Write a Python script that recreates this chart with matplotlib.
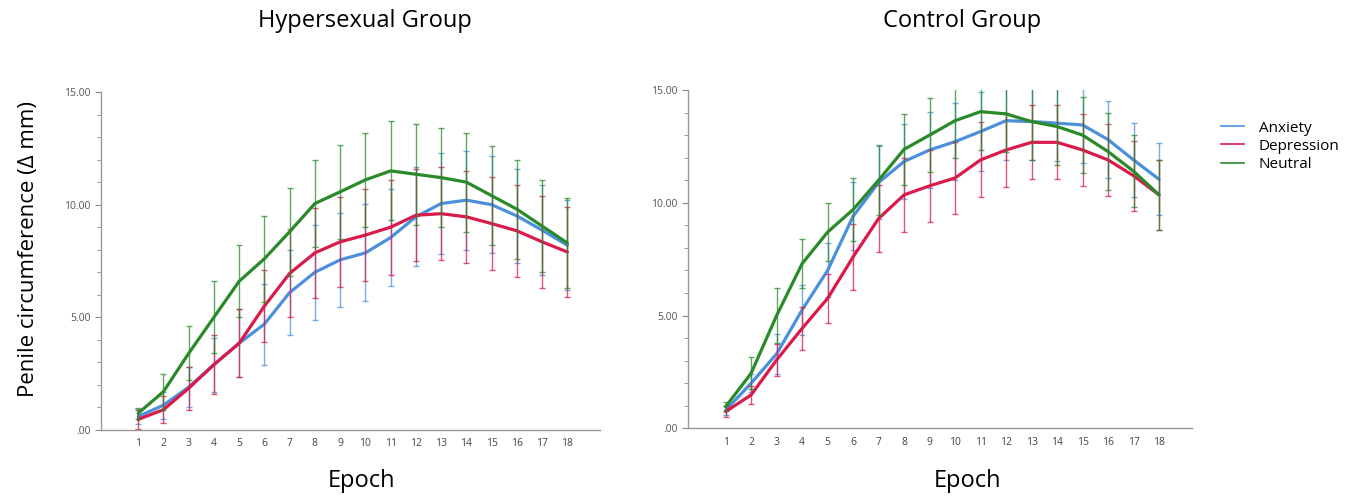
import matplotlib.pyplot as plt
from matplotlib.lines import Line2D
from matplotlib.ticker import FixedLocator, MultipleLocator
import numpy as np

plt.rcParams['font.family'] = ['Open Sans', 'DejaVu Sans']

# data
epochs = list(range(1, 19))
conditions = ['Anxiety', 'Depression', 'Neutral']
colours = {'Anxiety': '#4a90dc', 'Depression': '#d81b4a', 'Neutral': '#2a8a2a'}

hyp_anxiety = [0.6, 1.1, 1.9, 2.9, 3.85, 4.7, 6.1, 7.0, 7.55, 7.86, 8.54, 9.46, 10.05, 10.2, 10.0, 9.5, 8.87, 8.2]
hyp_depression = [0.47, 0.9, 1.85, 2.9, 3.85, 5.5, 6.95, 7.86, 8.35, 8.65, 9.0, 9.53, 9.6, 9.46, 9.16, 8.84, 8.35, 7.9]
hyp_neutral = [0.74, 1.7, 3.4, 5.0, 6.6, 7.6, 8.8, 10.05, 10.57, 11.1, 11.5, 11.35, 11.2, 11.0, 10.4, 9.8, 9.05, 8.3]
hyp_anxiety_err = [0.35, 0.6, 0.9, 1.2, 1.5, 1.8, 1.9, 2.1, 2.1, 2.15, 2.15, 2.2, 2.25, 2.2, 2.15, 2.1, 2.0, 2.0]
hyp_depression_err = [0.43, 0.6, 0.95, 1.3, 1.5, 1.6, 1.95, 2.0, 2.0, 2.05, 2.1, 2.05, 2.05, 2.05, 2.05, 2.05, 2.05, 2.0]
hyp_neutral_err = [0.25, 0.8, 1.2, 1.6, 1.6, 1.9, 1.95, 1.95, 2.1, 2.1, 2.2, 2.25, 2.2, 2.2, 2.2, 2.2, 2.05, 2.0]

ctl_anxiety = [0.8, 2.0, 3.3, 5.25, 7.0, 9.4, 10.9, 11.83, 12.34, 12.71, 13.16, 13.64, 13.6, 13.53, 13.45, 12.8, 11.9, 11.04]
ctl_depression = [0.74, 1.48, 3.03, 4.43, 5.76, 7.6, 9.3, 10.35, 10.75, 11.1, 11.9, 12.34, 12.68, 12.68, 12.34, 11.9, 11.2, 10.35]
ctl_neutral = [0.96, 2.44, 5.0, 7.3, 8.7, 9.7, 11.0, 12.37, 13.0, 13.64, 14.04, 13.94, 13.6, 13.38, 13.0, 12.27, 11.4, 10.35]
ctl_anxiety_err = [0.2, 0.4, 0.9, 1.1, 1.2, 1.5, 1.6, 1.65, 1.7, 1.7, 1.75, 1.75, 1.7, 1.7, 1.7, 1.7, 1.65, 1.6]
ctl_depression_err = [0.25, 0.4, 0.7, 0.95, 1.1, 1.45, 1.5, 1.65, 1.6, 1.6, 1.66, 1.65, 1.64, 1.64, 1.6, 1.6, 1.56, 1.55]
ctl_neutral_err = [0.2, 0.7, 1.2, 1.1, 1.3, 1.4, 1.55, 1.57, 1.63, 1.65, 1.7, 1.7, 1.7, 1.7, 1.7, 1.7, 1.6, 1.55]

yticks = [0, 5, 10, 15]
ytick_labels = ['.00', '5.00', '10.00', '15.00']

groups = [
    ('Hypersexual Group', [hyp_anxiety, hyp_depression, hyp_neutral],
     [hyp_anxiety_err, hyp_depression_err, hyp_neutral_err]),
    ('Control Group', [ctl_anxiety, ctl_depression, ctl_neutral],
     [ctl_anxiety_err, ctl_depression_err, ctl_neutral_err]),
]

fig = plt.figure(figsize=(13.6, 5.0), dpi=100)
ax1 = fig.add_axes([0.0743, 0.14, 0.367, 0.676])
ax2 = fig.add_axes([0.506, 0.1434, 0.3706, 0.6766])

for ax, (title, means, errs) in zip([ax1, ax2], groups):
    for cond, m, e in zip(conditions, means, errs):
        c = colours[cond]
        ax.errorbar(epochs, m, yerr=e, fmt='none', ecolor=c, elinewidth=1.0,
                    capsize=2.5, capthick=1.0, alpha=0.75)
        ax.plot(epochs, m, color=c, lw=2.3, solid_capstyle='round')
    ax.set_xlim(-0.47, 19.3)
    ax.set_ylim(0, 15)
    ax.set_xticks(epochs)
    ax.set_xticklabels([str(e) for e in epochs])
    ax.yaxis.set_major_locator(FixedLocator(yticks))
    ax.set_yticklabels(ytick_labels)
    ax.yaxis.set_minor_locator(MultipleLocator(1))
    ax.tick_params(axis='x', length=0, labelsize=7.5, labelcolor='#444444', pad=6)
    ax.tick_params(axis='y', which='major', length=4, color='#888888', labelsize=7.5,
                   labelcolor='#555555')
    ax.tick_params(axis='y', which='minor', length=3, color='#888888')
    for s in ['top', 'right']:
        ax.spines[s].set_visible(False)
    for s in ['left', 'bottom']:
        ax.spines[s].set_color('#999999')
        ax.spines[s].set_linewidth(1.0)

fig.text(365 / 1360, 1 - 21 / 500, 'Hypersexual Group', ha='center', va='center', fontsize=17)
fig.text(962 / 1360, 1 - 21 / 500, 'Control Group', ha='center', va='center', fontsize=17)
fig.text(362 / 1360, 1 - 481 / 500, 'Epoch', ha='center', va='center', fontsize=17)
fig.text(967 / 1360, 1 - 481 / 500, 'Epoch', ha='center', va='center', fontsize=17)
fig.text(29 / 1360, 1 - 249 / 500, 'Penile circumference (Δ mm)', ha='center', va='center',
         rotation=90, fontsize=16)

handles = [Line2D([0], [0], color=colours[c], lw=1.2) for c in conditions]
fig.legend(handles, conditions, loc='upper left', bbox_to_anchor=(1207 / 1360, 1 - 107 / 500),
           frameon=False, fontsize=11, handlelength=1.5, handletextpad=1.0, labelspacing=0.2)

fig.savefig('out.png', dpi=100)
